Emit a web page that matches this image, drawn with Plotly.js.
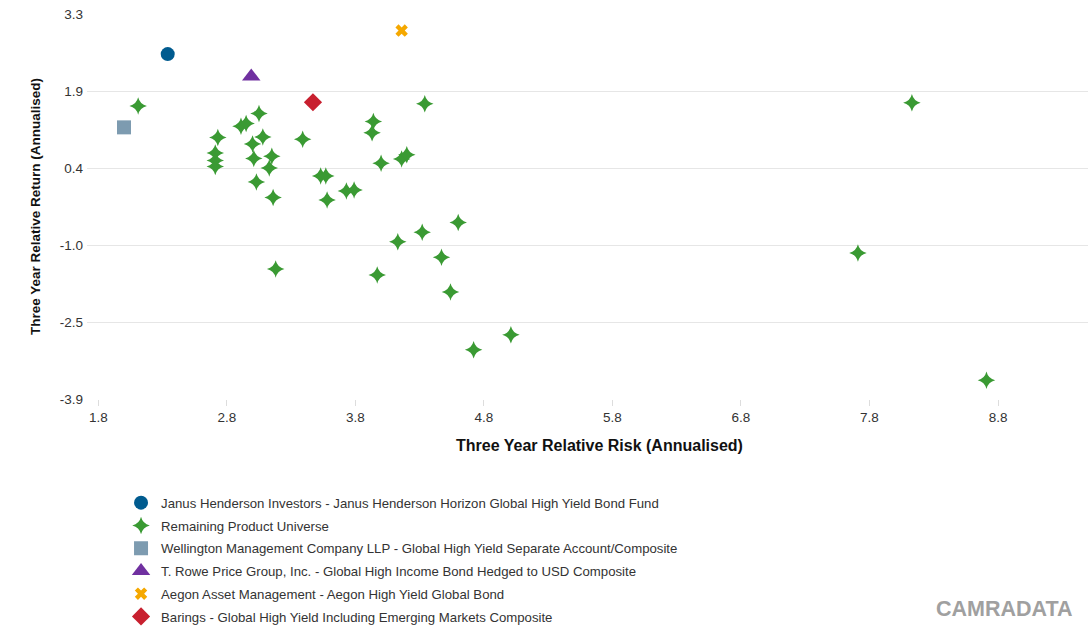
<!DOCTYPE html>
<html>
<head>
<meta charset="utf-8">
<script src="https://cdn.plot.ly/plotly-3.0.1.min.js"></script>
<style>
html,body{margin:0;padding:0;background:#fff;}
#chart{width:1088px;height:632px;}
</style>
</head>
<body>
<div id="chart"></div>
<script>
// Highlighted products
const janusRisk = [2.34];
const janusReturn = [2.55];
const wellingtonRisk = [2.00];
const wellingtonReturn = [1.18];
const troweRisk = [2.99];
const troweReturn = [2.13];
const aegonRisk = [4.16];
const aegonReturn = [2.99];
const baringsRisk = [3.47];
const baringsReturn = [1.65];

// Remaining product universe
const universeRisk = [
  2.11, 2.73, 2.71, 2.71, 2.71, 2.91, 2.95, 3.05, 3.08, 3.00,
  3.01, 3.15, 3.13, 3.03, 3.16, 3.39, 3.53, 3.57, 3.58, 3.73,
  3.79, 3.94, 3.93, 4.34, 4.00, 4.16, 4.20, 4.60, 4.32, 4.13,
  4.47, 3.97, 4.54, 5.01, 4.72, 3.18, 8.13, 7.71, 8.71
];
const universeReturn = [
  1.58, 0.99, 0.70, 0.56, 0.45, 1.20, 1.25, 1.44, 1.00, 0.87,
  0.60, 0.64, 0.42, 0.16, -0.13, 0.96, 0.27, 0.27, -0.18, -0.01,
  0.01, 1.29, 1.08, 1.62, 0.51, 0.59, 0.67, -0.60, -0.78, -0.96,
  -1.25, -1.58, -1.90, -2.70, -2.98, -1.47, 1.64, -1.17, -3.55
];

const xTicks = [1.8, 2.8, 3.8, 4.8, 5.8, 6.8, 7.8, 8.8];
const xTickText = ["1.8", "2.8", "3.8", "4.8", "5.8", "6.8", "7.8", "8.8"];
const yTicks = [-3.9, -2.46, -1.02, 0.42, 1.86, 3.3];
const yTickText = ["-3.9", "-2.5", "-1.0", "0.4", "1.9", "3.3"];

const names = [
  "Janus Henderson Investors - Janus Henderson Horizon Global High Yield Bond Fund",
  "Remaining Product Universe",
  "Wellington Management Company LLP - Global High Yield Separate Account/Composite",
  "T. Rowe Price Group, Inc. - Global High Income Bond Hedged to USD Composite",
  "Aegon Asset Management - Aegon High Yield Global Bond",
  "Barings - Global High Yield Including Emerging Markets Composite"
];

function tr(x, y, name, symbol, color, size, g, rank) {
  return {
    type: 'scatter', mode: 'markers', x: x, y: y, name: name,
    legendgroup: g, legendrank: rank,
    marker: {symbol: symbol, color: color, size: size, line: {width: 0}},
    cliponaxis: false
  };
}

const data = [
  tr(universeRisk, universeReturn, names[1], 'star-diamond', '#3a9a33', 12.5, 'g2', 2),
  tr(wellingtonRisk, wellingtonReturn, names[2], 'square', '#7d9bb0', 14, 'g3', 3),
  tr(troweRisk, troweReturn, names[3], 'triangle-up', '#7030a0', 16, 'g4', 4),
  tr(aegonRisk, aegonReturn, names[4], 'x', '#f5a800', 11, 'g5', 5),
  tr(baringsRisk, baringsReturn, names[5], 'diamond', '#c8202f', 14, 'g6', 6),
  tr(janusRisk, janusReturn, names[0], 'circle', '#005b8f', 14, 'g1', 1)
];

const font = 'Liberation Sans, Arial, sans-serif';

const layout = {
  width: 1088, height: 632,
  margin: {l: 87, r: 0, t: 14, b: 233},
  paper_bgcolor: '#ffffff', plot_bgcolor: '#ffffff',
  font: {family: font, color: '#333333', size: 12},
  showlegend: true,
  xaxis: {
    range: [1.712, 9.5],
    tickmode: 'array', tickvals: xTicks, ticktext: xTickText,
    showgrid: false, zeroline: false, showline: false,
    ticks: 'outside', ticklen: 6, tickcolor: '#dddddd', tickwidth: 1,
    tickfont: {family: font, size: 13.5, color: '#333333'}
  },
  yaxis: {
    range: [-3.9, 3.3],
    tickmode: 'array', tickvals: yTicks, ticktext: yTickText,
    showgrid: true, gridcolor: '#e6e6e6', gridwidth: 1,
    zeroline: false, showline: false,
    ticks: '', ticklen: 0, ticklabelstandoff: 3,
    tickfont: {family: font, size: 13.5, color: '#333333'},
    title: {text: 'Three Year Relative Return (Annualised)', font: {family: font, size: 13.5, color: '#111111', weight: 'bold'}, standoff: 16}
  },
  legend: {
    orientation: 'v', x: 0.034, xanchor: 'left', y: -0.23, yanchor: 'top',
    xref: 'paper', yref: 'paper',
    traceorder: 'grouped', tracegroupgap: 2.6,
    font: {family: font, size: 13.2, color: '#333333'},
    bgcolor: 'rgba(0,0,0,0)', borderwidth: 0
  },
  annotations: [{
    text: '<b>Three Year Relative Risk (Annualised)</b>', showarrow: false,
    xref: 'paper', yref: 'paper', x: 0.5, y: 0, yanchor: 'middle', xanchor: 'center',
    xshift: 11.5, yshift: -46,
    font: {family: font, size: 16, color: '#111111'}
  }, {
    text: '<b>CAMRADATA</b>', showarrow: false,
    xref: 'paper', yref: 'paper', x: 1, y: -0.545,
    xanchor: 'right', yanchor: 'middle', xshift: -13,
    font: {family: font, size: 21.5, color: '#a0a0a0'}
  }]
};

Plotly.newPlot('chart', data, layout, {displayModeBar: false, staticPlot: true});
</script>
</body>
</html>
